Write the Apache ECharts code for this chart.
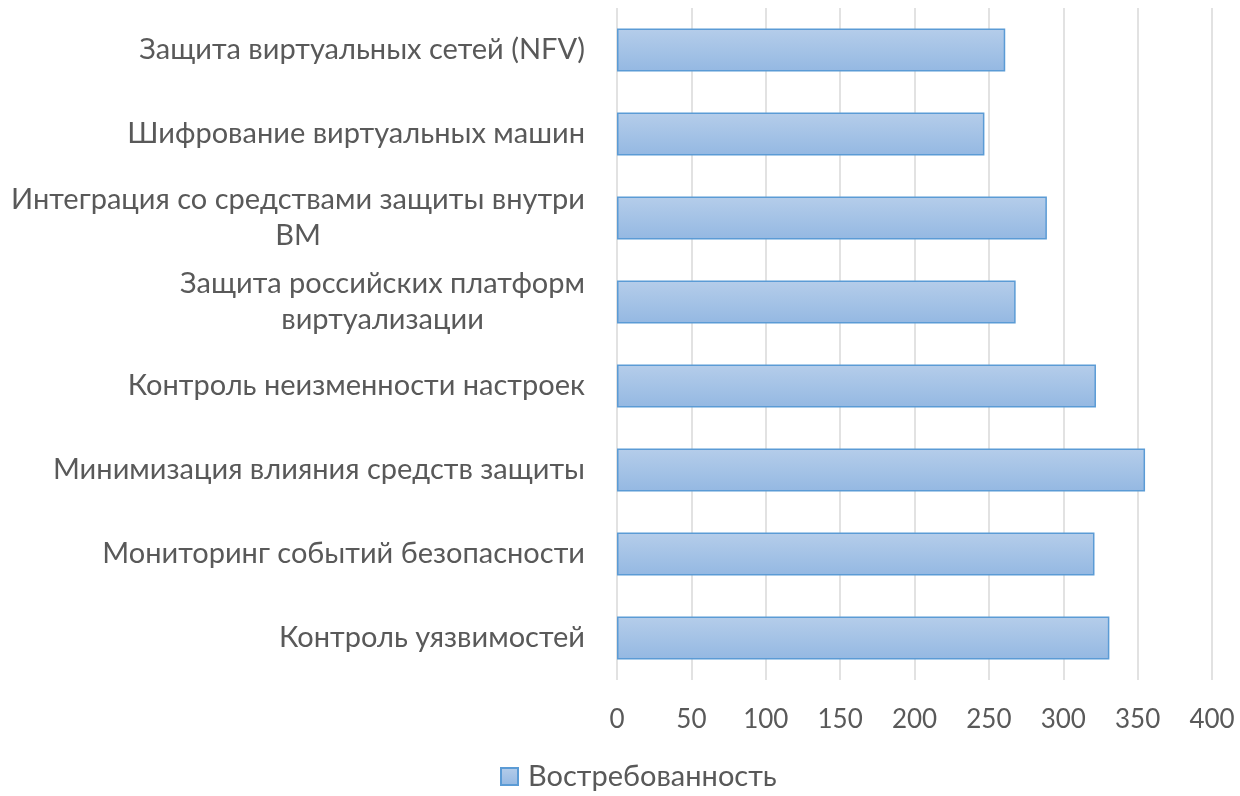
<!DOCTYPE html>
<html>
<head>
<meta charset="utf-8">
<script src="https://cdn.jsdelivr.net/npm/echarts@6/dist/echarts.min.js"></script>
<style>
html,body{margin:0;padding:0;background:#fff;}
#chart{width:1240px;height:796px;}
</style>
</head>
<body>
<div id="chart"></div>
<script>
// categories listed bottom-to-top (ECharts category y axis starts at bottom)
const categories = [
  'Контроль уязвимостей',
  'Мониторинг событий безопасности',
  'Минимизация влияния средств защиты',
  'Контроль неизменности настроек',
  'Защита российских платформ\nвиртуализации',
  'Интеграция со средствами защиты внутри\nВМ',
  'Шифрование виртуальных машин',
  'Защита виртуальных сетей (NFV)'
];
const seriesName = 'Востребованность';
const values = [331, 321, 355, 322, 268, 289, 247, 261];
const xTicks = [0, 50, 100, 150, 200, 250, 300, 350, 400];

const FONT = 'Lato';
const TEXT = '#595959';

const chart = echarts.init(document.getElementById('chart'), null, {renderer: 'canvas'});
const barGradient = new echarts.graphic.LinearGradient(0, 0, 0, 1, [
  {offset: 0, color: '#b5cdea'},
  {offset: 1, color: '#94b8e2'}
]);
chart.setOption({
  animation: false,
  backgroundColor: '#ffffff',
  textStyle: {fontFamily: FONT},
  grid: {left: 617, right: 28, top: 8, bottom: 116, containLabel: false},
  xAxis: {
    type: 'value',
    min: xTicks[0],
    max: xTicks[xTicks.length - 1],
    interval: 50,
    axisLine: {show: false},
    axisTick: {show: false},
    splitLine: {show: true, lineStyle: {color: '#d9d9d9', width: 1.5}},
    axisLabel: {color: TEXT, fontSize: 26, fontFamily: FONT, margin: 27}
  },
  yAxis: {
    type: 'category',
    data: categories,
    axisLine: {show: false},
    axisTick: {show: false},
    axisLabel: {
      margin: 32,
      formatter: function (v) {
        return v.split('\n').map(function (l) { return '{c|' + l + '}'; }).join('\n');
      },
      rich: {
        c: {color: TEXT, fontSize: 29, fontFamily: FONT, align: 'center', lineHeight: 36}
      }
    }
  },
  legend: {
    top: 762,
    left: 500,
    padding: 0,
    itemWidth: 17,
    itemHeight: 17,
    itemGap: 8,
    textStyle: {color: TEXT, fontSize: 29, fontFamily: FONT, padding: [0, 0, 0, 5]},
    data: [{name: seriesName, icon: 'rect'}]
  },
  series: [{
    name: seriesName,
    type: 'bar',
    data: values,
    barWidth: 43,
    itemStyle: {
      color: barGradient,
      borderColor: '#5b9bd5',
      borderWidth: 1.5
    }
  }]
});
</script>
</body>
</html>
